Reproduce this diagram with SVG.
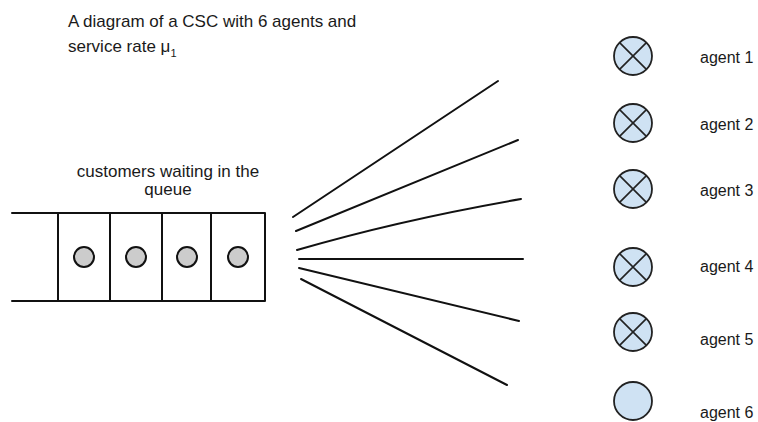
<svg xmlns="http://www.w3.org/2000/svg" width="758" height="422" viewBox="0 0 758 422">
  <style>
    text { font-family: "Liberation Sans", Arial, sans-serif; fill: #1a1a1a; }
    .t { font-size: 17px; }
    .lbl { font-size: 16px; }
    .ln { stroke: #111; stroke-width: 2; fill: none; stroke-linecap: round; }
    .cust { fill: #cccccc; stroke: #111; stroke-width: 2; }
    .agent { fill: #cfe2f3; stroke: #222; stroke-width: 1.8; }
    .x { stroke: #222; stroke-width: 1.6; }
  </style>
  <rect width="758" height="422" fill="#ffffff"/>

  <g id="title">
    <text class="t" x="68" y="27">A diagram of a CSC with 6 agents and</text>
    <text class="t" x="68" y="52">service rate μ<tspan font-size="11" dy="5">1</tspan></text>
  </g>

  <g id="queue">
    <text class="t" x="168" y="177" text-anchor="middle">customers waiting in the</text>
    <text class="t" x="168" y="195" text-anchor="middle">queue</text>
    <path class="ln" d="M12 213 H265 M12 301 H265 M58 213 V301 M110 213 V301 M162 213 V301 M211 213 V301 M265 213 V301"/>
    <circle class="cust" cx="84" cy="257" r="10"/>
    <circle class="cust" cx="136" cy="257" r="10"/>
    <circle class="cust" cx="187" cy="257" r="10"/>
    <circle class="cust" cx="238" cy="257" r="10"/>
  </g>

  <g id="connectors">
    <line class="ln" x1="293" y1="217" x2="498" y2="81"/>
    <line class="ln" x1="296" y1="231" x2="518" y2="140"/>
    <path class="ln" d="M297 250 Q400 220 521 199"/>
    <line class="ln" x1="299" y1="259" x2="523" y2="259"/>
    <line class="ln" x1="299" y1="268" x2="519" y2="321"/>
    <line class="ln" x1="301" y1="279" x2="507" y2="385"/>
  </g>

  <g id="agent1">
    <circle class="agent" cx="633" cy="56" r="19"/>
    <path class="x" d="M619.6 42.6 L646.4 69.4 M646.4 42.6 L619.6 69.4"/>
    <text class="lbl" x="700" y="63">agent 1</text>
  </g>
  <g id="agent2">
    <circle class="agent" cx="633" cy="123" r="19"/>
    <path class="x" d="M619.6 109.6 L646.4 136.4 M646.4 109.6 L619.6 136.4"/>
    <text class="lbl" x="700" y="130">agent 2</text>
  </g>
  <g id="agent3">
    <circle class="agent" cx="633" cy="189" r="19"/>
    <path class="x" d="M619.6 175.6 L646.4 202.4 M646.4 175.6 L619.6 202.4"/>
    <text class="lbl" x="700" y="196">agent 3</text>
  </g>
  <g id="agent4">
    <circle class="agent" cx="633" cy="267" r="19"/>
    <path class="x" d="M619.6 253.6 L646.4 280.4 M646.4 253.6 L619.6 280.4"/>
    <text class="lbl" x="700" y="272">agent 4</text>
  </g>
  <g id="agent5">
    <circle class="agent" cx="633" cy="332" r="19"/>
    <path class="x" d="M619.6 318.6 L646.4 345.4 M646.4 318.6 L619.6 345.4"/>
    <text class="lbl" x="700" y="345">agent 5</text>
  </g>
  <g id="agent6">
    <circle class="agent" cx="633" cy="401" r="19"/>
    <text class="lbl" x="700" y="418">agent 6</text>
  </g>
</svg>
